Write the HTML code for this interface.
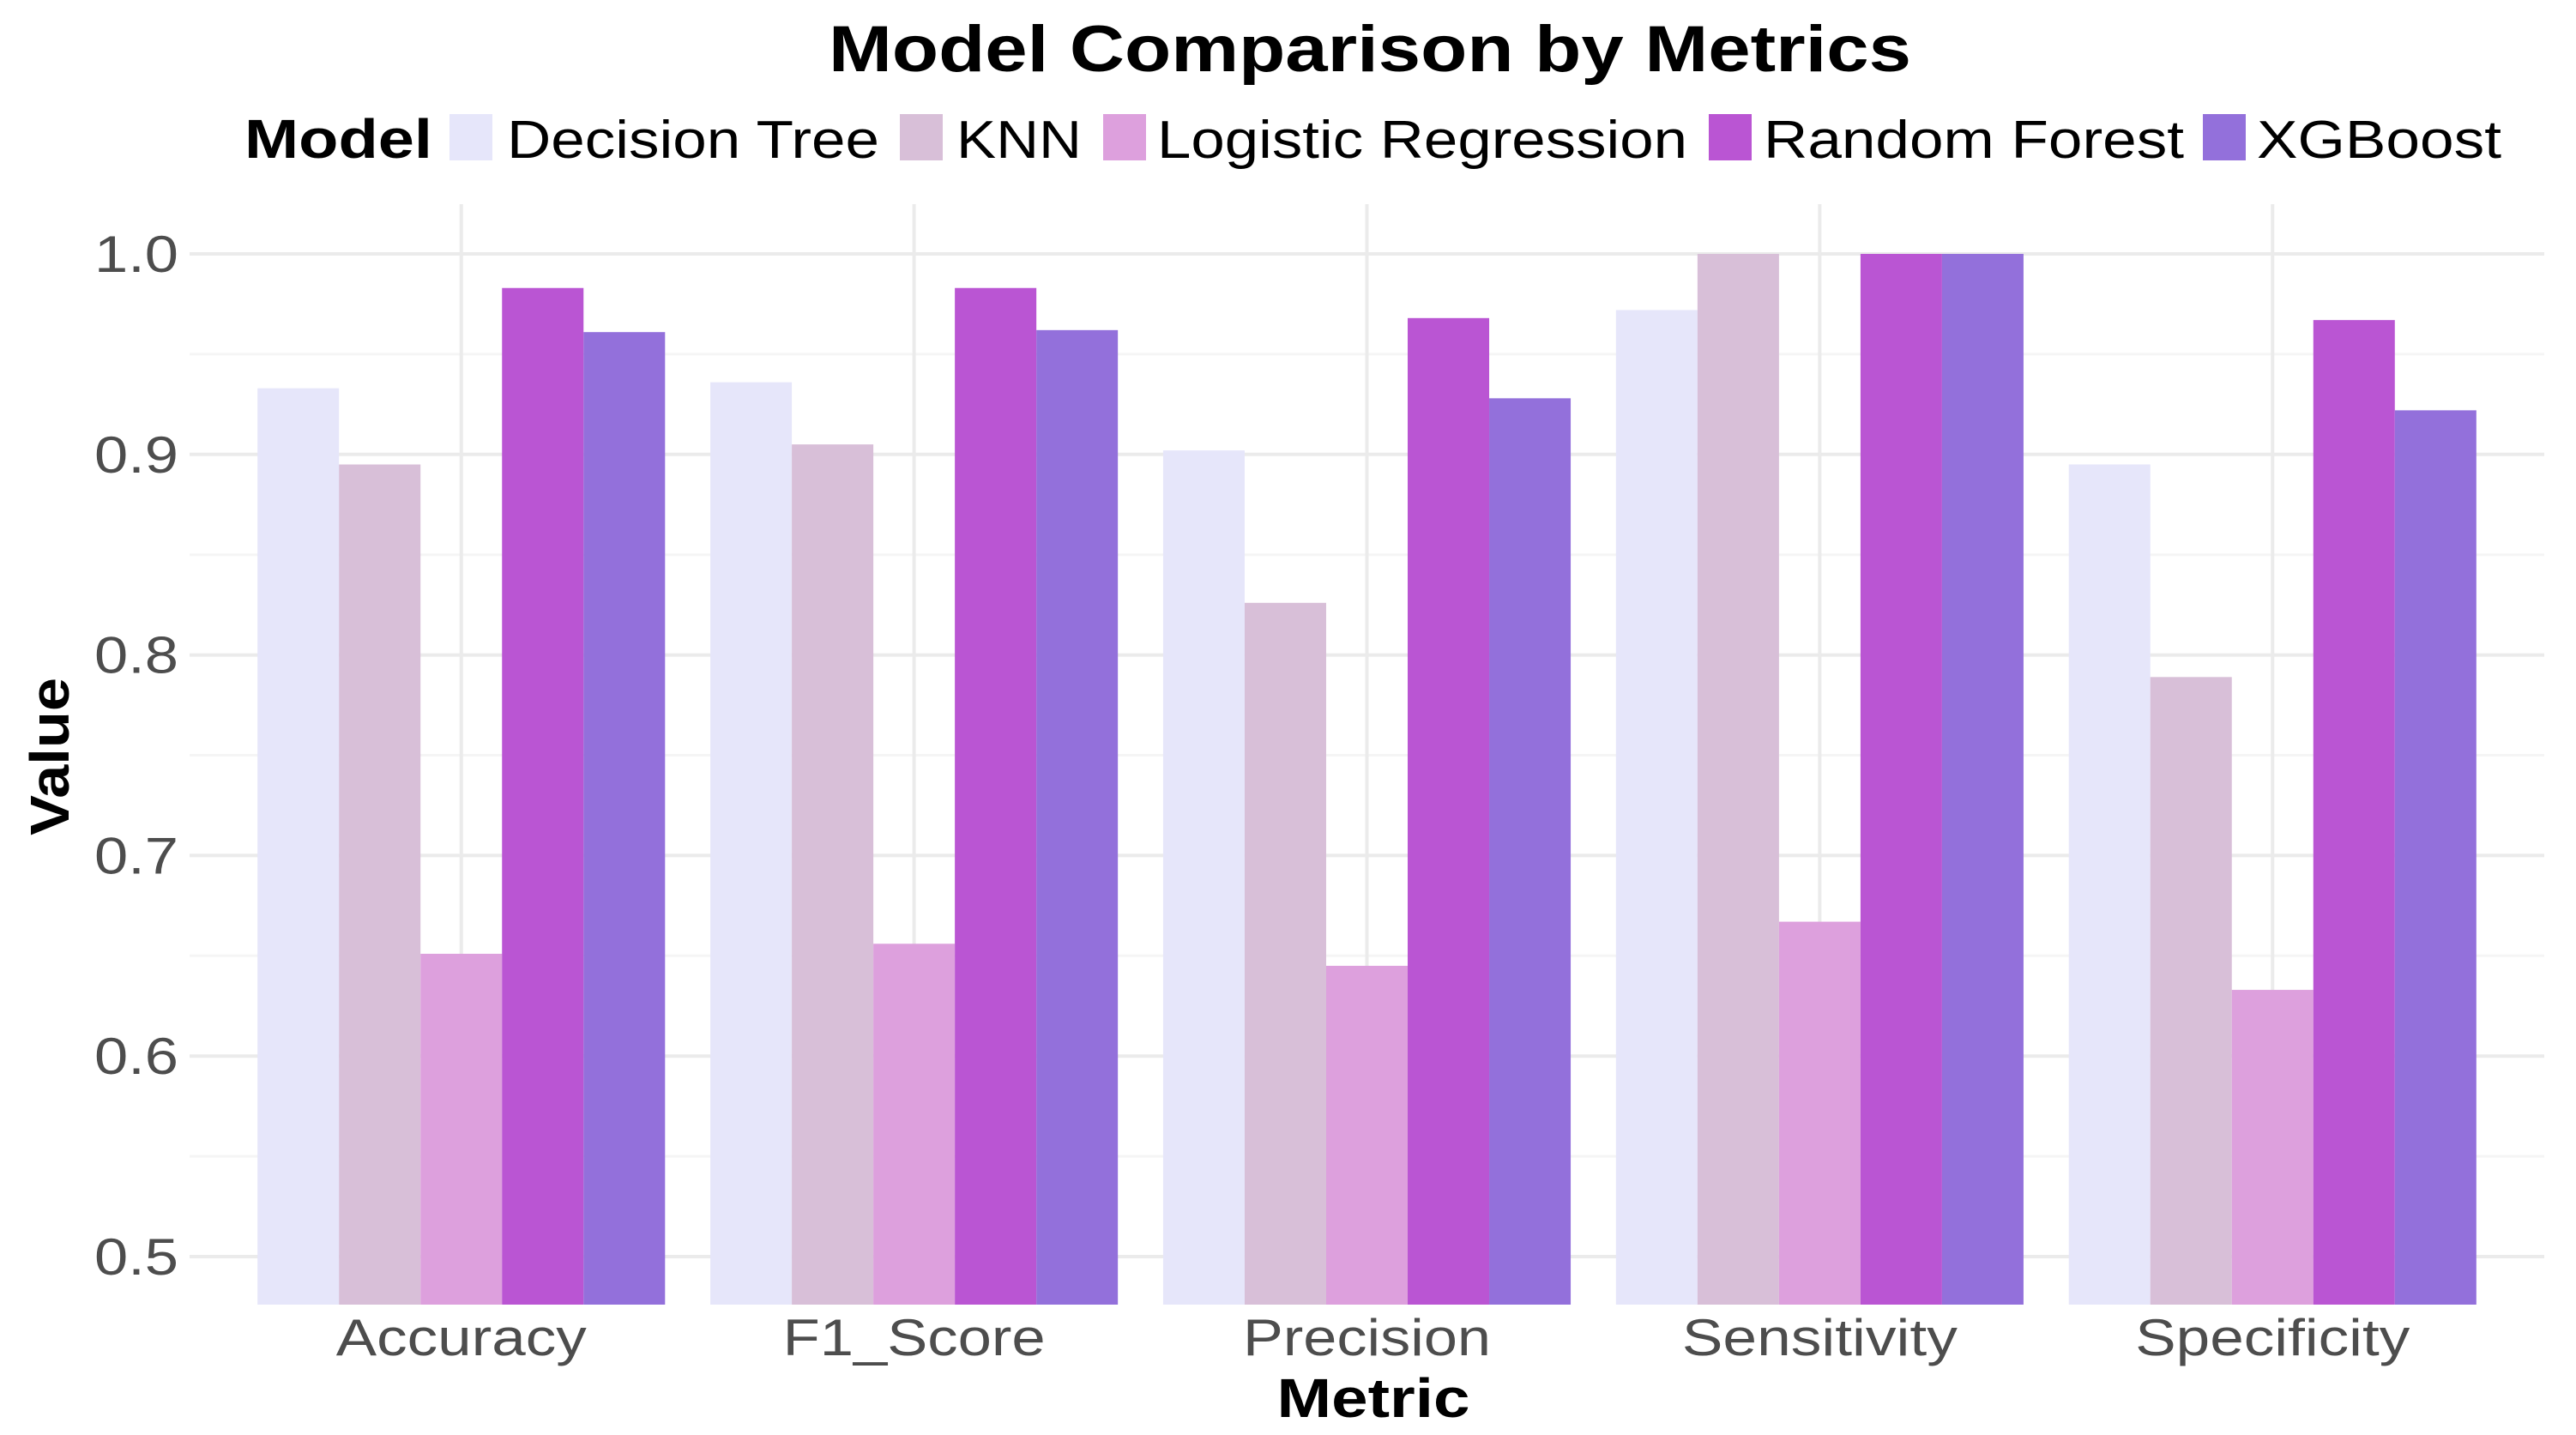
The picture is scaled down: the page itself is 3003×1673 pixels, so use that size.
<!DOCTYPE html>
<html><head><meta charset="utf-8"><style>html,body{margin:0;padding:0;background:#fff}svg{display:block}</style></head>
<body>
<svg id="chart" width="3003" height="1673" viewBox="0 0 3003 1673" xmlns="http://www.w3.org/2000/svg" font-family="'Liberation Sans', sans-serif">
<rect width="3003" height="1673" fill="#fff"/>
<text x="966" y="83" font-size="76" font-weight="bold" fill="#000" textLength="1262" lengthAdjust="spacingAndGlyphs">Model Comparison by Metrics</text>
<g id="legend"></g>
<g id="grid"></g>
<g id="bars"></g>
<g id="axes"></g>
<text x="1601" y="1652" text-anchor="middle" font-size="64" font-weight="bold" fill="#000" textLength="225" lengthAdjust="spacingAndGlyphs">Metric</text>
<text transform="translate(80,882) rotate(-90)" text-anchor="middle" font-size="64" font-weight="bold" fill="#000" textLength="184" lengthAdjust="spacingAndGlyphs">Value</text>
</svg>
<script>
const categories = ["Accuracy","F1_Score","Precision","Sensitivity","Specificity"];
const models = ["Decision Tree","KNN","Logistic Regression","Random Forest","XGBoost"];
const decisionTree = [0.933,0.936,0.902,0.972,0.895];
const knn = [0.895,0.905,0.826,1.0,0.789];
const logisticRegression = [0.651,0.656,0.645,0.667,0.633];
const randomForest = [0.983,0.983,0.968,1.0,0.967];
const xgboost = [0.961,0.962,0.928,1.0,0.922];
const yTicks = [0.5,0.6,0.7,0.8,0.9,1.0];
const yTickLabels = ["0.5","0.6","0.7","0.8","0.9","1.0"];

const series = [decisionTree, knn, logisticRegression, randomForest, xgboost];
const colors = ["#e6e6fa","#d8bfd8","#dda0dd","#ba55d3","#9370db"];
const catLabelW = [292,306,289,321,320];
const NS = "http://www.w3.org/2000/svg";
const px0 = 221, px1 = 2966, ptop = 238;
const y = v => 1465 - (v - 0.5) * 2338;
const band = (px1 - px0) / (categories.length + 0.2);
const xc = i => px0 + band * (0.6 + i);
const groupW = band * 0.9, barW = groupW / models.length;
const baseY = 1521;
function mk(tag, attrs, parent){const e=document.createElementNS(NS,tag);for(const k in attrs)e.setAttribute(k,attrs[k]);parent.appendChild(e);return e;}
const grid = document.getElementById('grid'), bars = document.getElementById('bars'), axes = document.getElementById('axes'), legend = document.getElementById('legend');
for (let t = 0.55; t < 1.0; t += 0.1) {
  const l = mk('line',{x1:px0,x2:px1,y1:y(t),y2:y(t),stroke:'#f5f5f5','stroke-width':3},grid);
  
  
}
yTicks.forEach((t,i)=>{
  const l = mk('line',{x1:px0,x2:px1,y1:y(t),y2:y(t),stroke:'#ebebeb','stroke-width':4},grid);
  
  
  const tx = mk('text',{x:208,y:y(t)+21,'text-anchor':'end','font-size':60,fill:'#4d4d4d',textLength:98,lengthAdjust:'spacingAndGlyphs'},axes);
  tx.textContent = yTickLabels[i];
  
  
});
categories.forEach((c,i)=>{
  const l = mk('line',{x1:xc(i),x2:xc(i),y1:ptop,y2:baseY,stroke:'#ebebeb','stroke-width':4},grid);
  
  
  const tx = mk('text',{x:xc(i),y:1580,'text-anchor':'middle','font-size':60,fill:'#4d4d4d',textLength:catLabelW[i],lengthAdjust:'spacingAndGlyphs'},axes);
  tx.textContent = c;
  
  
  series.forEach((s,j)=>{
    const x = xc(i) - groupW/2 + j*barW;
    const r = mk('rect',{x:x,y:y(s[i]),width:barW,height:baseY-y(s[i]),fill:colors[j]},bars);
    
    
  });
});
const lt = mk('text',{x:285,y:184,'font-size':64,'font-weight':'bold',fill:'#000',textLength:219,lengthAdjust:'spacingAndGlyphs'},legend);
lt.textContent = 'Model';


const keyX = [524,1049,1286,1992,2568], txtX = [591,1115,1349,2056,2631], txtW = [434,146,618,490,285];
models.forEach((m,j)=>{
  const k = mk('rect',{x:keyX[j],y:133,width:50,height:54,fill:colors[j]},legend);
  
  
  const t = mk('text',{x:txtX[j],y:184,'font-size':62,fill:'#000',textLength:txtW[j],lengthAdjust:'spacingAndGlyphs'},legend);
  t.textContent = m;
  
  
});
</script>
</body></html>
